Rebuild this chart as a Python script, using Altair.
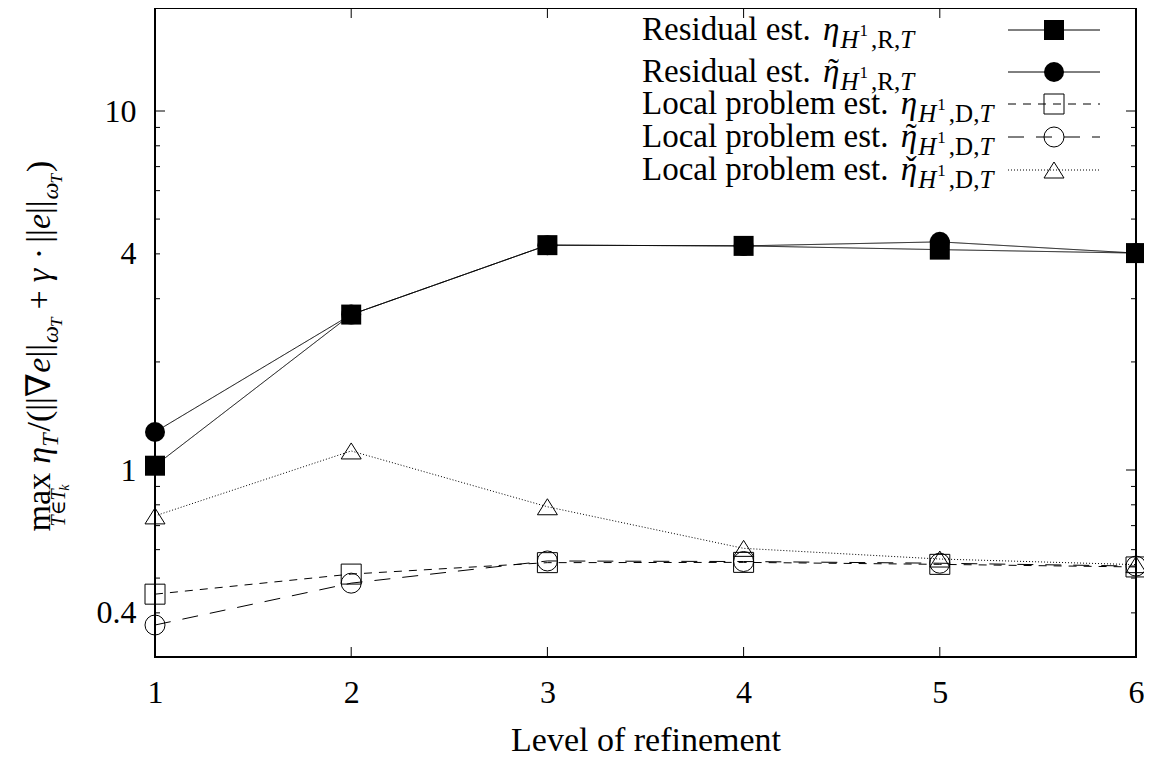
import altair as alt
import pandas as pd

# ---------------- data ----------------
levels = [1, 2, 3, 4, 5, 6]
res_eta = [1.028, 2.71, 4.23, 4.21, 4.11, 4.02]
res_eta_tilde = [1.276, 2.71, 4.23, 4.21, 4.32, 4.02]
loc_eta = [0.451, 0.513, 0.552, 0.553, 0.546, 0.537]
loc_eta_tilde = [0.370, 0.484, 0.558, 0.556, 0.550, 0.540]
loc_eta_check = [0.745, 1.13, 0.79, 0.605, 0.565, 0.545]

series_keys = ["s1", "s2", "s3", "s4", "s5"]
series_vals = [res_eta, res_eta_tilde, loc_eta, loc_eta_tilde, loc_eta_check]

x_ticks = [1, 2, 3, 4, 5, 6]
y_labels = [0.4, 1, 4, 10]
y_major = [1, 10]
y_minor = [0.4, 0.5, 0.6, 0.7, 0.8, 0.9, 2, 3, 4, 5, 6, 7, 8, 9]

# ---------------- layout ----------------
W, H = 981, 649
OX, OY = 155, 8          # page position of plot origin
FONT = "Liberation Serif, DejaVu Serif, serif"
TRI = "M0,-0.8L1,0.8L-1,0.8Z"

rows = []
for k, vals in zip(series_keys, series_vals):
    for lv, v in zip(levels, vals):
        rows.append({"series": k, "level": lv, "value": v})
df = pd.DataFrame(rows)

xscale = alt.Scale(domain=[1, 6], nice=False, zero=False)
yscale = alt.Scale(type="log", domain=[0.3014, 19.36], nice=False)
dash_scale = alt.Scale(domain=series_keys,
                       range=[[1, 0], [1, 0], [8, 7], [16, 12], [1, 2]])
shape_scale = alt.Scale(domain=series_keys,
                        range=["square", "circle", "square", "circle", TRI])

X = alt.X("level:Q", scale=xscale,
          axis=alt.Axis(values=x_ticks, format="d", ticks=False, tickSize=0, domain=False,
                        grid=False, labelFont=FONT, labelFontSize=32, labelColor="black",
                        labelPadding=20, labelFlush=False, title="Level of refinement",
                        titleFont=FONT, titleFontSize=34, titleFontWeight="normal",
                        titleColor="black", titleBaseline="alphabetic", titleY=93))
Y = alt.Y("value:Q", scale=yscale,
          axis=alt.Axis(values=y_labels, format="~g", ticks=False, tickSize=0, domain=False,
                        grid=False, labelFont=FONT, labelFontSize=32, labelColor="black",
                        labelPadding=19, labelFlush=False, title=None))

base = alt.Chart(df)
lines = base.mark_line(color="black", strokeWidth=1).encode(
    x=X, y=Y,
    strokeDash=alt.StrokeDash("series:N", scale=dash_scale, legend=None),
    detail="series:N")
filled_pts = base.transform_filter(
    alt.FieldOneOfPredicate(field="series", oneOf=["s1", "s2"])
).mark_point(filled=True, size=400, color="black", opacity=1).encode(
    x="level:Q", y="value:Q",
    shape=alt.Shape("series:N", scale=shape_scale, legend=None))
open_pts = base.transform_filter(
    alt.FieldOneOfPredicate(field="series", oneOf=["s3", "s4", "s5"])
).mark_point(filled=False, size=400, color="black", strokeWidth=1, opacity=1).encode(
    x="level:Q", y="value:Q",
    shape=alt.Shape("series:N", scale=shape_scale, legend=None))

# ---------------- ticks (inward, mirrored) ----------------
xt = pd.DataFrame({"level": x_ticks})
ymaj = pd.DataFrame({"value": y_major})
ymin = pd.DataFrame({"value": y_minor})
tick_layers = [
    alt.Chart(xt).mark_rule(color="black", strokeWidth=1).encode(
        x="level:Q", y=alt.value(H), y2=alt.value(H - 10)),
    alt.Chart(xt).mark_rule(color="black", strokeWidth=1).encode(
        x="level:Q", y=alt.value(0), y2=alt.value(10)),
    alt.Chart(ymaj).mark_rule(color="black", strokeWidth=1).encode(
        y="value:Q", x=alt.value(0), x2=alt.value(10)),
    alt.Chart(ymaj).mark_rule(color="black", strokeWidth=1).encode(
        y="value:Q", x=alt.value(W), x2=alt.value(W - 10)),
    alt.Chart(ymin).mark_rule(color="black", strokeWidth=1).encode(
        y="value:Q", x=alt.value(0), x2=alt.value(5)),
    alt.Chart(ymin).mark_rule(color="black", strokeWidth=1).encode(
        y="value:Q", x=alt.value(W), x2=alt.value(W - 5)),
]

# ---------------- text helpers ----------------
WID = {"R": 667, "e": 444, "s": 389, "i": 278, "d": 500, "u": 500, "a": 444, "l": 278,
       " ": 250, "t": 278, ".": 250, "L": 611, "o": 500, "c": 444, "p": 500, "r": 333,
       "b": 500, "m": 778, "x": 500, "/": 278, "(": 333, ")": 333, "+": 564, ",": 250,
       "1": 500, "D": 722, "·": 250, "|": 200, "∇": 720, "η": 500, "H": 722, "T": 556,
       "ω": 667, "γ": 444, "k": 444, "∈": 667}


def tw(s, fs):
    return sum(WID.get(c, 500) for c in s) / 1000.0 * fs


pieces = []  # text, page x, page y, size, italic, rotated


def add(t, x, y, fs, it, rot=False):
    pieces.append({"t": t, "px": x - OX, "py": y - OY, "fs": fs, "it": it, "rot": rot})


# legend
LF, LS, LSS = 33, 25, 17
leg_y = [30, 72, 104, 137, 170]
leg_text = ["Residual est.", "Residual est.", "Local problem est.",
            "Local problem est.", "Local problem est."]
leg_sub = ["R", "R", "D", "D", "D"]
leg_acc = ["", "˜", "", "˜", "ˇ"]
for yc, txt, sub, acc in zip(leg_y, leg_text, leg_sub, leg_acc):
    b = yc + 10
    x0 = 642
    add(txt, x0, b, LF, False)
    xe = x0 + tw(txt + " ", LF) + 4
    add("η", xe, b, LF, True)
    if acc:
        add(acc, xe + 5, b, LF, False)
    xs = xe + tw("η", LF) + 1
    add("H", xs, b + 8, LS, True)
    xs += tw("H", LS) + 1
    add("1", xs, b - 4, LSS, False)
    xs += tw("1", LSS) + 3
    add("," + sub + ",", xs, b + 8, LS, False)
    xs += tw("," + sub + ",", LS)
    add("T", xs, b + 8, LS, True)

# rotated y title (reads bottom to top)
TF, TS, TSS = 34, 24, 17
TB = 50      # baseline x (page)
seq = []


def put(t, perp, fs, it, gap_after=0.0):
    seq.append((t, perp, fs, it, tw(t, fs) + gap_after))


put("max", 0, TF, False, 9)
put("η", 0, TF, True)
put("T", 8, TS, True, 2)
put("/(||∇", 0, TF, False)
put("e", 0, TF, True)
put("||", 0, TF, False, 1)
put("ω", 8, TS, True)
put("T", 12, TSS, True, 8)
put("+", 0, TF, False, 8)
put("γ", 0, TF, True, 8)
put("·", 0, TF, False, 8)
put("||", 0, TF, False)
put("e", 0, TF, True)
put("||", 0, TF, False, 1)
put("ω", 8, TS, True)
put("T", 12, TSS, True, 2)
put(")", 0, TF, False)
total = sum(s[4] for s in seq)
TY0 = 346 + total / 2.0
a = 0.0
for t, perp, fs, it, adv in seq:
    add(t, TB + perp, TY0 - a, fs, it, True)
    if t == "max":
        add("T∈T", TB + 15, TY0 - a - 5, 20, True, True)
        add("k", TB + 19, TY0 - a - 5 - tw("T∈T", 20), 14, True, True)
    a += adv

tp = pd.DataFrame(pieces)


def text_layer(it, rot):
    d = tp[(tp["it"] == it) & (tp["rot"] == rot)]
    return alt.Chart(d).mark_text(
        font=FONT, fontStyle="italic" if it else "normal", color="black",
        align="left", baseline="alphabetic", angle=270 if rot else 0
    ).encode(
        x=alt.X("px:Q", scale=None, axis=None),
        y=alt.Y("py:Q", scale=None, axis=None),
        text="t:N",
        size=alt.Size("fs:Q", scale=None, legend=None))


texts = [text_layer(False, False), text_layer(True, False),
         text_layer(False, True), text_layer(True, True)]

# legend samples
leg = pd.DataFrame({"series": series_keys, "py": [y - OY for y in leg_y]})
leg_lines = alt.Chart(leg).mark_rule(color="black", strokeWidth=1).encode(
    x=alt.value(1008 - OX), x2=alt.value(1100 - OX),
    y=alt.Y("py:Q", scale=None, axis=None),
    strokeDash=alt.StrokeDash("series:N", scale=dash_scale, legend=None))
leg_filled = alt.Chart(leg).transform_filter(
    alt.FieldOneOfPredicate(field="series", oneOf=["s1", "s2"])
).mark_point(filled=True, size=400, color="black", opacity=1).encode(
    x=alt.value(1054 - OX), y=alt.Y("py:Q", scale=None, axis=None),
    shape=alt.Shape("series:N", scale=shape_scale, legend=None))
leg_open = alt.Chart(leg).transform_filter(
    alt.FieldOneOfPredicate(field="series", oneOf=["s3", "s4", "s5"])
).mark_point(filled=False, size=400, color="black", strokeWidth=1, opacity=1).encode(
    x=alt.value(1054 - OX), y=alt.Y("py:Q", scale=None, axis=None),
    shape=alt.Shape("series:N", scale=shape_scale, legend=None))

chart = alt.layer(
    lines, *tick_layers, filled_pts, open_pts, leg_lines, leg_filled, leg_open, *texts
).properties(
    width=W, height=H,
    padding={"left": OX - 8, "top": OY - 8, "right": 8, "bottom": 100},
    autosize=alt.AutoSizeParams(type="none"),
    background="white",
).configure_view(stroke="black", strokeWidth=2)

chart.save("out.html", embed_options={"renderer": "svg", "actions": False})
